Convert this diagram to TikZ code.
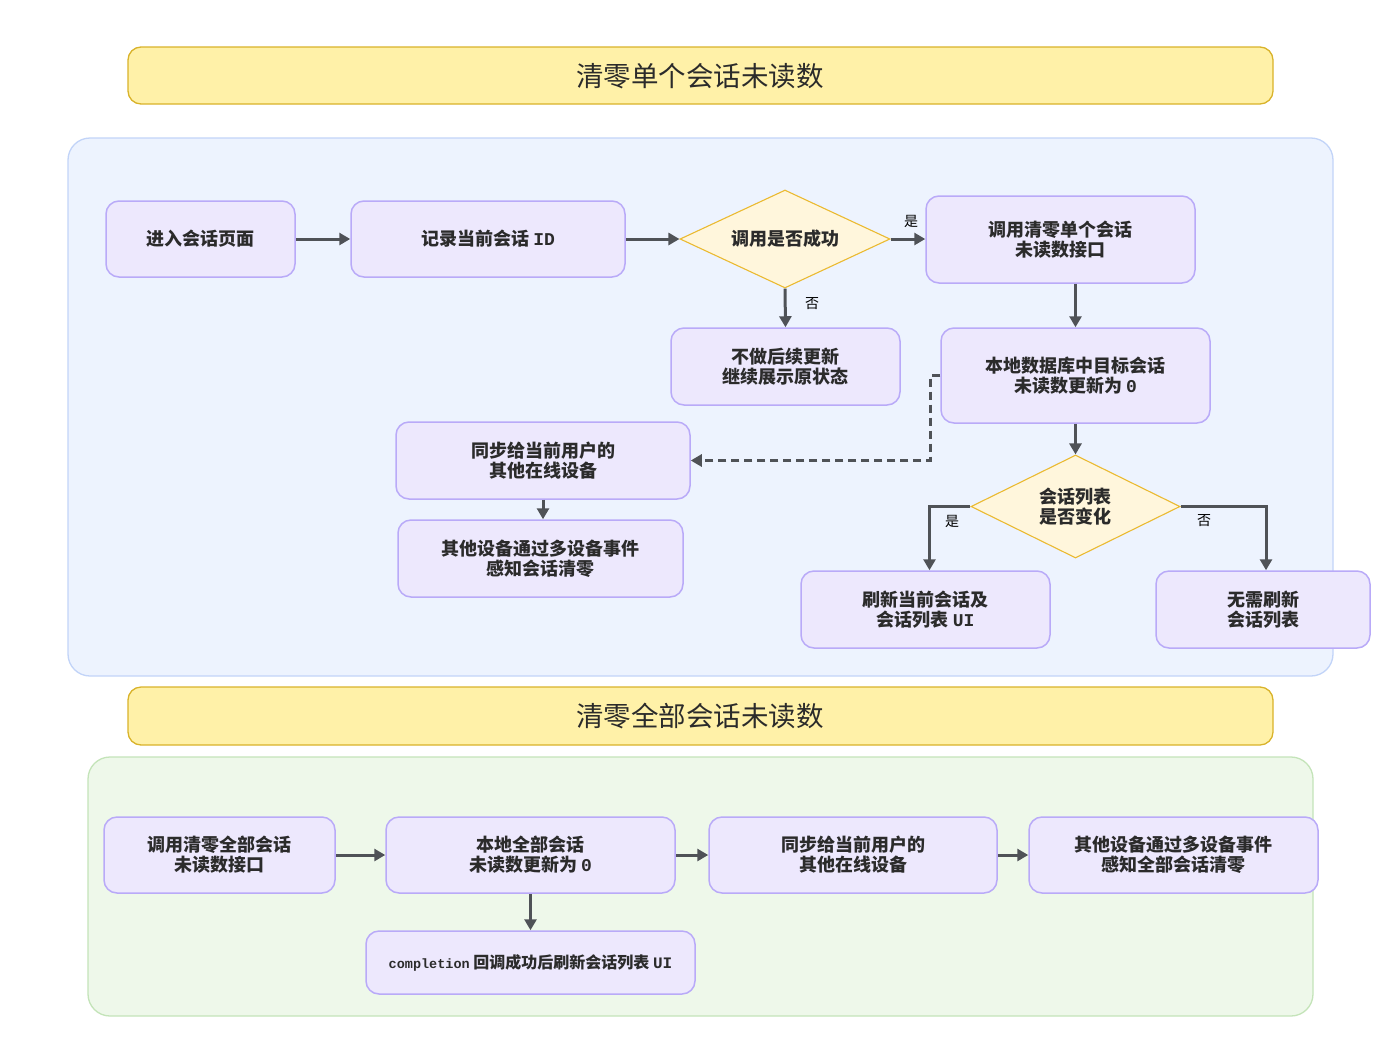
\documentclass[tikz,border=0pt]{standalone}
\usepackage{fontspec}
\setmainfont{Noto Sans CJK SC}
\setmonofont{Liberation Mono}
\usetikzlibrary{arrows.meta,shapes.geometric}
\definecolor{titlefill}{HTML}{FFF1A8}
\definecolor{titledraw}{HTML}{D9B32A}
\definecolor{bluefill}{HTML}{EDF3FE}
\definecolor{bluedraw}{HTML}{C2D4F8}
\definecolor{greenfill}{HTML}{EEF8EA}
\definecolor{greendraw}{HTML}{C4E4B9}
\definecolor{boxfill}{HTML}{EDE8FD}
\definecolor{boxdraw}{HTML}{B9AAF8}
\definecolor{dfill}{HTML}{FFF6DC}
\definecolor{ddraw}{HTML}{EBBA30}
\definecolor{arrowc}{HTML}{4F5257}
\definecolor{textc}{HTML}{2B2B2B}
\begin{document}
\begin{tikzpicture}[x=1pt,y=-1pt,
  titlebox/.style={draw=titledraw, fill=titlefill, line width=1.3pt, rounded corners=13pt},
  titletext/.style={font=\fontsize{27.5}{31}\selectfont, text=textc},
  procbox/.style={draw=boxdraw, fill=boxfill, line width=1.5pt, rounded corners=13pt, align=center,
     font=\fontsize{18}{20}\selectfont\bfseries, text=textc, inner sep=0pt},
  decision/.style={diamond, draw=ddraw, fill=dfill, line width=1.1pt, align=center, inner sep=0pt,
     shape aspect=2.14, minimum width=210pt, minimum height=98pt,
     font=\fontsize{18}{20}\selectfont\bfseries, text=textc},
  arr/.style={draw=arrowc, line width=3pt, -{Triangle[length=11pt,width=12pt]}},
  darr/.style={arr, dash pattern=on 8pt off 5pt},
  lbl/.style={font=\fontsize{14}{16}\selectfont, text=black, inner sep=0pt}
]
\fill[white] (0,0) rectangle (1400,1050);
\useasboundingbox (0,0) rectangle (1400,1050);

% titles and containers
\draw[titlebox] (128,47) rectangle (1273,104);
\node[titletext] (t1) at (700,76) {清零单个会话未读数};
\draw[draw=bluedraw, fill=bluefill, line width=1.3pt, rounded corners=22pt] (68,138) rectangle (1333,676);
\draw[titlebox] (128,687) rectangle (1273,745);
\node[titletext] (t2) at (700,716) {清零全部会话未读数};
\draw[draw=greendraw, fill=greenfill, line width=1.3pt, rounded corners=22pt] (88,757) rectangle (1313,1016);

% section 1 nodes
\node[procbox, minimum width=189pt, minimum height=76pt] (A) at (200.5,239) {进入会话页面};
\node[procbox, minimum width=274pt, minimum height=76pt] (B) at (488,239) {记录当前会话\ \texttt{ID}};
\node[decision] (D1) at (785,239) {调用是否成功};
\node[procbox, minimum width=269pt, minimum height=87pt] (C) at (1060.5,239.5) {调用清零单个会话\\未读数接口};
\node[procbox, minimum width=229pt, minimum height=77pt] (E) at (785.5,366.5) {不做后续更新\\继续展示原状态};
\node[procbox, minimum width=269pt, minimum height=95pt] (F) at (1075.5,375.5) {本地数据库中目标会话\\未读数更新为\ \texttt{0}};
\node[procbox, minimum width=294pt, minimum height=77pt] (G) at (543,460.5) {同步给当前用户的\\其他在线设备};
\node[procbox, minimum width=285pt, minimum height=77pt] (H) at (540.5,558.5) {其他设备通过多设备事件\\感知会话清零};
\node[decision, minimum width=209pt, minimum height=103pt, shape aspect=2.03] (D2) at (1075.5,506.5) {会话列表\\是否变化};
\node[procbox, minimum width=249pt, minimum height=77pt] (I) at (925.5,609.5) {刷新当前会话及\\会话列表\ \texttt{UI}};
\node[procbox, minimum width=214pt, minimum height=77pt] (J) at (1263,609.5) {无需刷新\\会话列表};

% section 1 edges
\draw[arr] (A.east) -- (B.west);
\draw[arr] (B.east) -- (D1.west);
\draw[arr] (D1.east) -- (C.west |- D1.east);
\node[lbl] (l1) at (911,221) {是};
\draw[arr] (D1.south) -- (E.north);
\node[lbl] (l2) at (812,304) {否};
\draw[arr] (C.south -| F.north) -- (F.north);
\draw[darr] (F.west) -- ++(-10,0) |- (G.east);
\draw[arr] (F.south) -- (D2.north);
\draw[arr] (G.south) -- (G.south |- H.north);
\draw[arr] (D2.west) -| ([xshift=4pt]I.north);
\node[lbl] (l3) at (952,521) {是};
\draw[arr] (D2.east) -| ([xshift=3pt]J.north);
\node[lbl] (l4) at (1204,521) {否};

% section 2 nodes
\node[procbox, minimum width=231pt, minimum height=76pt] (K) at (219.5,855) {调用清零全部会话\\未读数接口};
\node[procbox, minimum width=289pt, minimum height=76pt] (L) at (530.5,855) {本地全部会话\\未读数更新为\ \texttt{0}};
\node[procbox, minimum width=288pt, minimum height=76pt] (M) at (853,855) {同步给当前用户的\\其他在线设备};
\node[procbox, minimum width=289pt, minimum height=76pt] (N) at (1173.5,855) {其他设备通过多设备事件\\感知全部会话清零};
\node[procbox, minimum width=329pt, minimum height=63pt, font=\fontsize{16}{19}\selectfont\bfseries] (O) at (530.5,962.5) {{\fontsize{13.5}{16}\selectfont\texttt{completion}}\ 回调成功后刷新会话列表\ \texttt{UI}};

% section 2 edges
\draw[arr] (K.east) -- (L.west);
\draw[arr] (L.east) -- (M.west);
\draw[arr] (M.east) -- (N.west);
\draw[arr] (L.south) -- (O.north);
\end{tikzpicture}
\end{document}
